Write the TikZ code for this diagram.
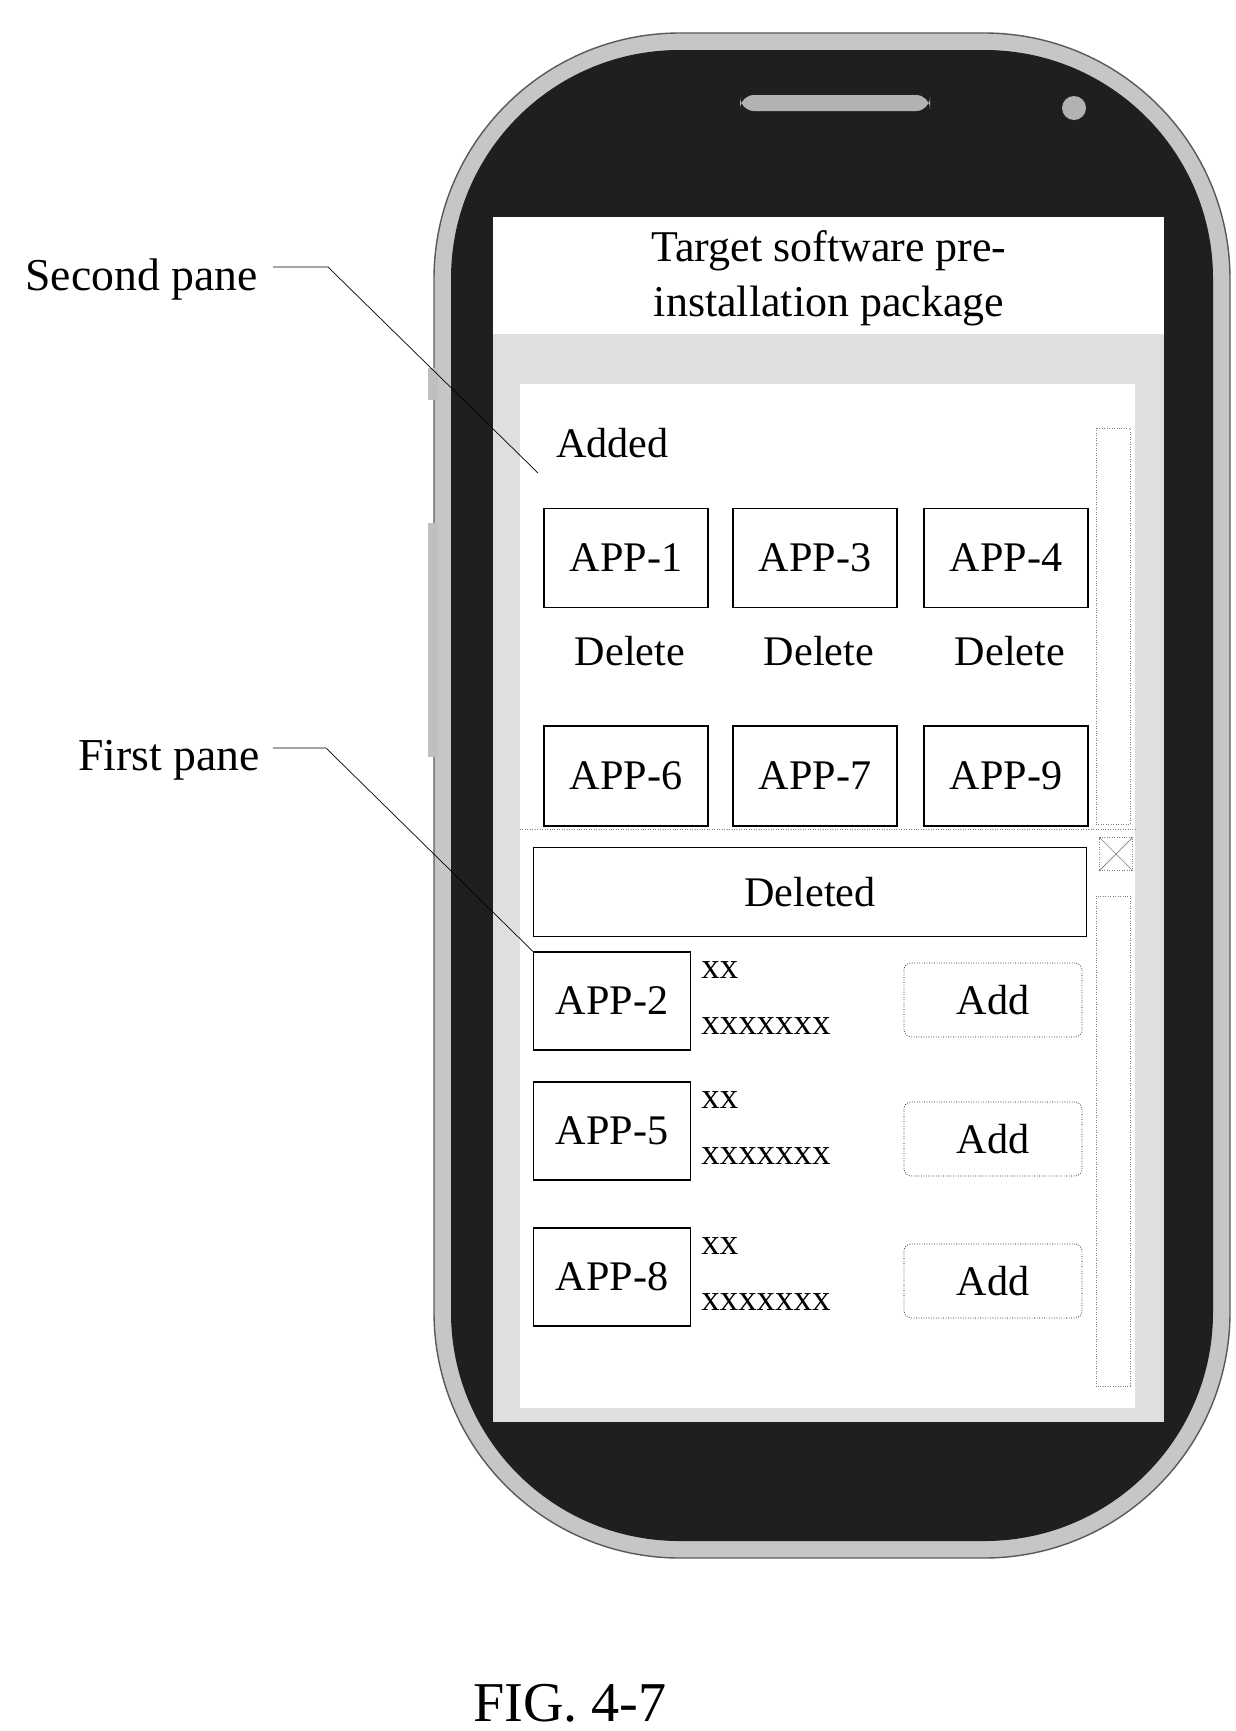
\documentclass[tikz,border=0pt]{standalone}
\usepackage{fontspec}
\setmainfont{Liberation Serif}
\usetikzlibrary{positioning}
\begin{document}
\begin{tikzpicture}[x=0.02cm, y=-0.02cm,
    appbox/.style={draw, thick, inner sep=0pt, font=\fontsize{24}{27}\selectfont},
    addbox/.style={draw, densely dotted, rounded corners=4pt, inner sep=0pt, font=\fontsize{24}{27}\selectfont},
    lbl/.style={font=\fontsize{24}{27}\selectfont, inner sep=0pt},
    small/.style={font=\fontsize{21}{23}\selectfont, inner sep=0pt, anchor=west},
    scroll/.style={draw, densely dotted, gray}]
    \useasboundingbox (0,0) rectangle (1235,1731);

    % Phone body
    \draw[fill=gray!45, draw=gray!70!black, thick, rounded corners=140] (434,33) rectangle (1230,1558);
    \fill[black!88, rounded corners=130] (451,50) rectangle (1213,1541);
    \fill[gray!50] (428,368) rectangle (438,400);
    \fill[gray!50] (428,523) rectangle (438,757);
    \fill[gray!60, rounded corners=8] (740,95) rectangle (930,111);
    \fill[gray!60] (1074,108) circle (12);

    % Screen
    \fill[white] (493,217) rectangle (1164,334);
    \fill[gray!25] (493,334) rectangle (1164,1422);
    \fill[white] (520,384) rectangle (1135,1408);
    \node[lbl] (title) at (829,278) {\fontsize{25}{31}\selectfont\begin{tabular}{c}Target software pre-\\installation package\end{tabular}};

    % Second pane
    \node[lbl, anchor=west] (added) at (556,443) {Added};
    \draw[scroll] (1096,428) rectangle (1130,824);
    \foreach \x/\n in {544/1,733/3,924/4} {
        \node[appbox, minimum width=3.28cm, minimum height=1.98cm] (app\n) at (\x+82,558) {APP-\n};
        \node[lbl] (del\n) at (\x+86,651) {Delete};
    }
    \foreach \x/\n in {544/6,733/7,924/9}
        \node[appbox, minimum width=3.28cm, minimum height=2cm] (app\n) at (\x+82,776) {APP-\n};

    % First pane
    \fill[white] (520,829) rectangle (1135,1408);
    \draw[densely dotted, gray] (520,829) -- (1135,829);
    \node[draw, densely dotted, gray, minimum size=0.66cm, inner sep=0pt] (close) at (1116,854) {};
    \draw[gray] (close.north west) -- (close.south east) (close.north east) -- (close.south west);
    \draw[scroll] (1096,896) rectangle (1130,1386);
    \node[appbox, minimum width=11.06cm, minimum height=1.78cm] (deleted) at (810,892) {Deleted};
    \foreach \y/\a/\n in {952/963/2,1082/1102/5,1228/1244/8} {
        \node[appbox, minimum width=3.14cm, minimum height=1.96cm] (app\n) at (612,\y+49) {APP-\n};
        \node[small] (xa\n) at (701,\y+18) {xx};
        \node[small] (xb\n) at (701,\y+74) {xxxxxxx};
        \node[addbox, minimum width=3.56cm, minimum height=1.48cm] (add\n) at (993,\a+37) {Add};
    }

    % Labels
    \node[lbl, anchor=east, font=\fontsize{26}{29}\selectfont] (second) at (258,280) {Second pane};
    \node[lbl, anchor=east, font=\fontsize{26}{29}\selectfont] (first) at (260,760) {First pane};
    \coordinate (sp) at (538,473);
    \coordinate (fp) at (app2.north west);
    \draw (second.east) ++(15,-13) -- ++(55,0) -- (sp);
    \draw (first.east) ++(13,-12) -- ++(53,0) -- (fp);

    \node[font=\fontsize{32}{36}\selectfont] (fig) at (570,1703) {FIG. 4-7};
\end{tikzpicture}
\end{document}
